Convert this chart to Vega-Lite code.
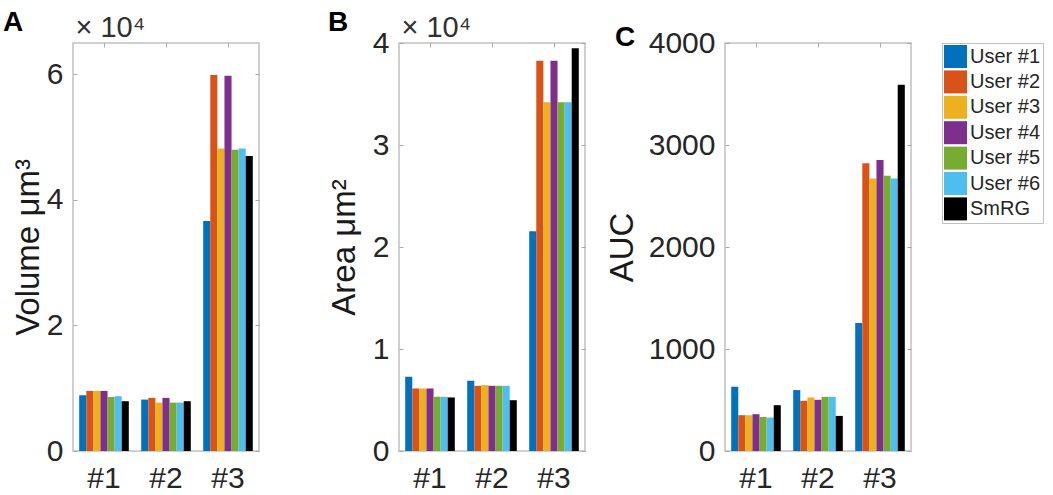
{
  "$schema": "https://vega.github.io/schema/vega-lite/v6.json",
  "background": "white",
  "padding": {"left": 2, "top": 8, "right": 0, "bottom": 0},
  "autosize": {"type": "pad"},
  "bounds": "flush",
  "spacing": 140,
  "data": {
    "values": [
      {"metric": "Volume", "group": "#1", "series": "User #1", "value": 8880},
      {"metric": "Volume", "group": "#1", "series": "User #2", "value": 9570},
      {"metric": "Volume", "group": "#1", "series": "User #3", "value": 9570},
      {"metric": "Volume", "group": "#1", "series": "User #4", "value": 9570},
      {"metric": "Volume", "group": "#1", "series": "User #5", "value": 8620},
      {"metric": "Volume", "group": "#1", "series": "User #6", "value": 8720},
      {"metric": "Volume", "group": "#1", "series": "SmRG", "value": 7930},
      {"metric": "Volume", "group": "#2", "series": "User #1", "value": 8190},
      {"metric": "Volume", "group": "#2", "series": "User #2", "value": 8460},
      {"metric": "Volume", "group": "#2", "series": "User #3", "value": 7710},
      {"metric": "Volume", "group": "#2", "series": "User #4", "value": 8460},
      {"metric": "Volume", "group": "#2", "series": "User #5", "value": 7710},
      {"metric": "Volume", "group": "#2", "series": "User #6", "value": 7710},
      {"metric": "Volume", "group": "#2", "series": "SmRG", "value": 7930},
      {"metric": "Volume", "group": "#3", "series": "User #1", "value": 36650},
      {"metric": "Volume", "group": "#3", "series": "User #2", "value": 59900},
      {"metric": "Volume", "group": "#3", "series": "User #3", "value": 48200},
      {"metric": "Volume", "group": "#3", "series": "User #4", "value": 59800},
      {"metric": "Volume", "group": "#3", "series": "User #5", "value": 48000},
      {"metric": "Volume", "group": "#3", "series": "User #6", "value": 48200},
      {"metric": "Volume", "group": "#3", "series": "SmRG", "value": 47000},
      {"metric": "Area", "group": "#1", "series": "User #1", "value": 7280},
      {"metric": "Area", "group": "#1", "series": "User #2", "value": 6130},
      {"metric": "Area", "group": "#1", "series": "User #3", "value": 6130},
      {"metric": "Area", "group": "#1", "series": "User #4", "value": 6130},
      {"metric": "Area", "group": "#1", "series": "User #5", "value": 5310},
      {"metric": "Area", "group": "#1", "series": "User #6", "value": 5310},
      {"metric": "Area", "group": "#1", "series": "SmRG", "value": 5250},
      {"metric": "Area", "group": "#2", "series": "User #1", "value": 6890},
      {"metric": "Area", "group": "#2", "series": "User #2", "value": 6390},
      {"metric": "Area", "group": "#2", "series": "User #3", "value": 6460},
      {"metric": "Area", "group": "#2", "series": "User #4", "value": 6390},
      {"metric": "Area", "group": "#2", "series": "User #5", "value": 6390},
      {"metric": "Area", "group": "#2", "series": "User #6", "value": 6390},
      {"metric": "Area", "group": "#2", "series": "SmRG", "value": 4980},
      {"metric": "Area", "group": "#3", "series": "User #1", "value": 21540},
      {"metric": "Area", "group": "#3", "series": "User #2", "value": 38260},
      {"metric": "Area", "group": "#3", "series": "User #3", "value": 34200},
      {"metric": "Area", "group": "#3", "series": "User #4", "value": 38260},
      {"metric": "Area", "group": "#3", "series": "User #5", "value": 34200},
      {"metric": "Area", "group": "#3", "series": "User #6", "value": 34200},
      {"metric": "Area", "group": "#3", "series": "SmRG", "value": 39480},
      {"metric": "AUC", "group": "#1", "series": "User #1", "value": 630},
      {"metric": "AUC", "group": "#1", "series": "User #2", "value": 351},
      {"metric": "AUC", "group": "#1", "series": "User #3", "value": 351},
      {"metric": "AUC", "group": "#1", "series": "User #4", "value": 361},
      {"metric": "AUC", "group": "#1", "series": "User #5", "value": 334},
      {"metric": "AUC", "group": "#1", "series": "User #6", "value": 328},
      {"metric": "AUC", "group": "#1", "series": "SmRG", "value": 449},
      {"metric": "AUC", "group": "#2", "series": "User #1", "value": 597},
      {"metric": "AUC", "group": "#2", "series": "User #2", "value": 492},
      {"metric": "AUC", "group": "#2", "series": "User #3", "value": 525},
      {"metric": "AUC", "group": "#2", "series": "User #4", "value": 502},
      {"metric": "AUC", "group": "#2", "series": "User #5", "value": 531},
      {"metric": "AUC", "group": "#2", "series": "User #6", "value": 531},
      {"metric": "AUC", "group": "#2", "series": "SmRG", "value": 344},
      {"metric": "AUC", "group": "#3", "series": "User #1", "value": 1256},
      {"metric": "AUC", "group": "#3", "series": "User #2", "value": 2820},
      {"metric": "AUC", "group": "#3", "series": "User #3", "value": 2672},
      {"metric": "AUC", "group": "#3", "series": "User #4", "value": 2852},
      {"metric": "AUC", "group": "#3", "series": "User #5", "value": 2698},
      {"metric": "AUC", "group": "#3", "series": "User #6", "value": 2672},
      {"metric": "AUC", "group": "#3", "series": "SmRG", "value": 3590}
    ]
  },
  "hconcat": [
    {
      "width": 186,
      "height": 408,
      "title": {"text": "A", "anchor": "start", "frame": "group", "dx": -70, "dy": 28},
      "transform": [{"filter": "datum.metric === 'Volume'"}],
      "resolve": {"axis": {"x": "independent", "y": "independent"}},
      "layer": [
        {
          "mark": {"type": "bar"},
          "encoding": {
            "x": {"field": "group", "type": "nominal", "scale": {"paddingInner": 0.2, "paddingOuter": 0.1},
                  "axis": {"orient": "bottom", "title": null}},
            "xOffset": {"field": "series", "type": "nominal", "scale": {"domain": ["User #1", "User #2", "User #3", "User #4", "User #5", "User #6", "SmRG"], "paddingInner": 0}},
            "y": {"field": "value", "type": "quantitative", "scale": {"domain": [0, 65000], "nice": false, "zero": true},
                  "axis": {"orient": "left", "values": [0, 20000, 40000, 60000], "labelExpr": "datum.value / 10000", "title": "Volume μm³", "titleX": -35, "titleY": 204}},
            "color": {"field": "series", "type": "nominal", "legend": null,
                      "scale": {"domain": ["User #1", "User #2", "User #3", "User #4", "User #5", "User #6", "SmRG"], "range": ["#0072BD", "#D95319", "#EDB120", "#7E2F8E", "#77AC30", "#4DBEEE", "#000000"]}}
          }
        },
        {
          "mark": {"type": "point", "opacity": 0},
          "encoding": {
            "x": {"field": "group", "type": "nominal", "axis": {"orient": "top", "labels": false, "title": "× 10⁴", "titleX": 2, "titleY": -7, "titleAlign": "left", "titleBaseline": "alphabetic", "titleFontSize": 29, "titleAngle": 0, "titleColor": "#303030"}},
            "y": {"field": "value", "type": "quantitative", "axis": {"orient": "right", "labels": false, "values": [0, 20000, 40000, 60000], "title": null}}
          }
        }
      ]
    },
    {
      "width": 186,
      "height": 408,
      "title": {"text": "B", "anchor": "start", "frame": "group", "dx": -71, "dy": 28},
      "transform": [{"filter": "datum.metric === 'Area'"}],
      "resolve": {"axis": {"x": "independent", "y": "independent"}},
      "layer": [
        {
          "mark": {"type": "bar"},
          "encoding": {
            "x": {"field": "group", "type": "nominal", "scale": {"paddingInner": 0.2, "paddingOuter": 0.1},
                  "axis": {"orient": "bottom", "title": null}},
            "xOffset": {"field": "series", "type": "nominal", "scale": {"domain": ["User #1", "User #2", "User #3", "User #4", "User #5", "User #6", "SmRG"], "paddingInner": 0}},
            "y": {"field": "value", "type": "quantitative", "scale": {"domain": [0, 40000], "nice": false, "zero": true},
                  "axis": {"orient": "left", "values": [0, 10000, 20000, 30000, 40000], "labelExpr": "datum.value / 10000", "title": "Area μm²", "titleX": -45, "titleY": 204}},
            "color": {"field": "series", "type": "nominal", "legend": null,
                      "scale": {"domain": ["User #1", "User #2", "User #3", "User #4", "User #5", "User #6", "SmRG"], "range": ["#0072BD", "#D95319", "#EDB120", "#7E2F8E", "#77AC30", "#4DBEEE", "#000000"]}}
          }
        },
        {
          "mark": {"type": "point", "opacity": 0},
          "encoding": {
            "x": {"field": "group", "type": "nominal", "axis": {"orient": "top", "labels": false, "title": "× 10⁴", "titleX": 2, "titleY": -7, "titleAlign": "left", "titleBaseline": "alphabetic", "titleFontSize": 29, "titleAngle": 0, "titleColor": "#303030"}},
            "y": {"field": "value", "type": "quantitative", "axis": {"orient": "right", "labels": false, "values": [0, 10000, 20000, 30000, 40000], "title": null}}
          }
        }
      ]
    },
    {
      "width": 186,
      "height": 408,
      "title": {"text": "C", "anchor": "start", "frame": "group", "dx": -110, "dy": 28},
      "transform": [{"filter": "datum.metric === 'AUC'"}],
      "resolve": {"axis": {"x": "independent", "y": "independent"}},
      "layer": [
        {
          "mark": {"type": "bar"},
          "encoding": {
            "x": {"field": "group", "type": "nominal", "scale": {"paddingInner": 0.2, "paddingOuter": 0.1},
                  "axis": {"orient": "bottom", "title": null}},
            "xOffset": {"field": "series", "type": "nominal", "scale": {"domain": ["User #1", "User #2", "User #3", "User #4", "User #5", "User #6", "SmRG"], "paddingInner": 0}},
            "y": {"field": "value", "type": "quantitative", "scale": {"domain": [0, 4000], "nice": false, "zero": true},
                  "axis": {"orient": "left", "values": [0, 1000, 2000, 3000, 4000], "format": "d", "title": "AUC", "titleX": -93, "titleY": 204}},
            "color": {"field": "series", "type": "nominal",
                      "scale": {"domain": ["User #1", "User #2", "User #3", "User #4", "User #5", "User #6", "SmRG"], "range": ["#0072BD", "#D95319", "#EDB120", "#7E2F8E", "#77AC30", "#4DBEEE", "#000000"]},
                      "legend": {"orient": "none", "legendX": 217, "legendY": 0, "direction": "vertical", "title": null,
                                 "symbolType": "square", "symbolSize": 529, "symbolStrokeWidth": 0, "symbolOpacity": 1,
                                 "labelFontSize": 20, "labelColor": "#262626", "labelOffset": 3, "rowPadding": 2.4,
                                 "padding": 2, "strokeColor": "#c0c0c0", "fillColor": "white", "labelLimit": 0, "labelFont": "Liberation Sans"}}
          }
        },
        {
          "mark": {"type": "point", "opacity": 0},
          "encoding": {
            "x": {"field": "group", "type": "nominal", "axis": {"orient": "top", "labels": false, "title": null}},
            "y": {"field": "value", "type": "quantitative", "axis": {"orient": "right", "labels": false, "values": [0, 1000, 2000, 3000, 4000], "title": null}}
          }
        }
      ]
    }
  ],
  "resolve": {"scale": {"color": "independent"}, "legend": {"color": "independent"}},
  "config": {
    "font": "Liberation Sans",
    "view": {"stroke": "#c0c0c0", "strokeWidth": 1.5},
    "title": {"fontSize": 28, "fontWeight": "bold", "color": "#000000", "font": "Liberation Sans"},
    "axis": {
      "domain": false,
      "grid": false,
      "ticks": true,
      "tickSize": -4,
      "tickColor": "#a8a8a8",
      "labelFontSize": 30,
      "labelColor": "#262626",
      "labelFont": "Liberation Sans",
      "titleFont": "Liberation Sans",
      "titleFontSize": 33,
      "titleFontWeight": "normal",
      "titleColor": "#1a1a1a",
      "titleBaseline": "alphabetic",
      "titleAlign": "center"
    },
    "axisLeft": {"labelPadding": 14},
    "axisBottom": {"labelPadding": 16, "labelAngle": 0},
    "bar": {"stroke": null}
  }
}
